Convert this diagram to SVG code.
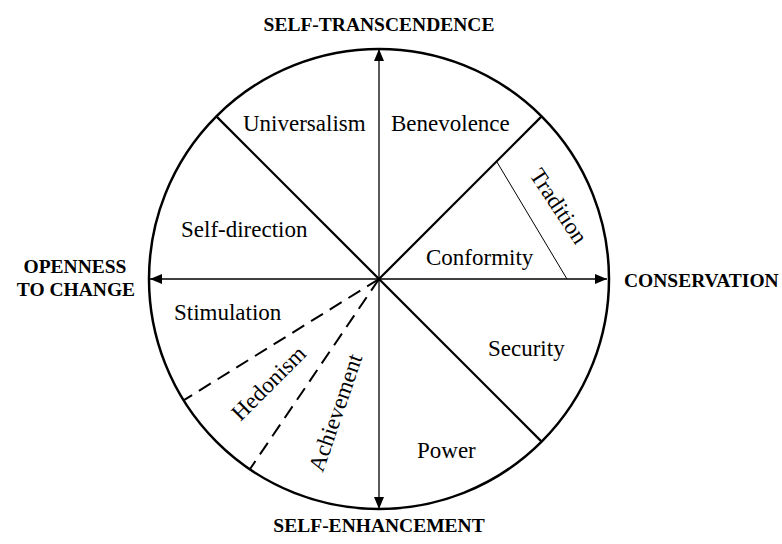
<svg xmlns="http://www.w3.org/2000/svg" width="782" height="544" viewBox="0 0 782 544">
<style>
.lbl{font-family:"Liberation Serif","Times New Roman",serif;font-size:23px;fill:#000}
.hdr{font-family:"Liberation Serif","Times New Roman",serif;font-size:19.5px;font-weight:bold;fill:#000}
.axis{stroke:#000;stroke-width:1.3;fill:none}
.div{stroke:#000;stroke-width:2.2;fill:none}
.dash{stroke:#000;stroke-width:2;fill:none;stroke-dasharray:14 8}
</style>
<defs>
<marker id="ah" markerUnits="userSpaceOnUse" markerWidth="12" markerHeight="10" refX="12" refY="5" orient="auto-start-reverse">
<path d="M0,0 L12,5 L0,10 Z" fill="#000"/>
</marker>
</defs>
<rect width="782" height="544" fill="#fff"/>
<g id="circle">
<circle cx="379" cy="279" r="230" fill="none" stroke="#000" stroke-width="2.5"/>
</g>
<g id="connectors">
<line class="axis" x1="379" y1="49" x2="379" y2="509" marker-start="url(#ah)" marker-end="url(#ah)"/>
<line class="axis" x1="150" y1="279" x2="607" y2="279" marker-start="url(#ah)" marker-end="url(#ah)"/>
<line class="div" x1="216.4" y1="116.4" x2="541.6" y2="441.6"/>
<line class="div" x1="379" y1="279" x2="541.6" y2="116.4"/>
<line stroke="#000" stroke-width="1" x1="496.6" y1="161.4" x2="567" y2="279"/>
<line class="dash" x1="379" y1="279" x2="183.5" y2="400.4"/>
<line class="dash" x1="379" y1="279" x2="249.9" y2="469.2"/>
</g>
<g id="headers">
<text class="hdr" x="379" y="31" text-anchor="middle">SELF-TRANSCENDENCE</text>
<text class="hdr" x="379" y="532" text-anchor="middle">SELF-ENHANCEMENT</text>
<text class="hdr" x="75" y="273" text-anchor="middle">OPENNESS</text>
<text class="hdr" x="76" y="296" text-anchor="middle">TO CHANGE</text>
<text class="hdr" x="624" y="287">CONSERVATION</text>
</g>
<g id="universalism"><text class="lbl" x="243" y="131">Universalism</text></g>
<g id="benevolence"><text class="lbl" x="391" y="131">Benevolence</text></g>
<g id="self-direction"><text class="lbl" x="181" y="237">Self-direction</text></g>
<g id="stimulation"><text class="lbl" x="174" y="320">Stimulation</text></g>
<g id="conformity"><text class="lbl" x="426" y="265">Conformity</text></g>
<g id="security"><text class="lbl" x="488" y="356">Security</text></g>
<g id="power"><text class="lbl" x="417" y="458">Power</text></g>
<g id="tradition"><text class="lbl" text-anchor="middle" transform="translate(556.5,207.5) rotate(56.5)" x="0" y="5">Tradition</text></g>
<g id="hedonism"><text class="lbl" text-anchor="middle" transform="translate(270.5,385) rotate(-45)" x="0" y="5">Hedonism</text></g>
<g id="achievement"><text class="lbl" text-anchor="middle" transform="translate(338,413.5) rotate(-71)" x="0" y="5">Achievement</text></g>
</svg>
